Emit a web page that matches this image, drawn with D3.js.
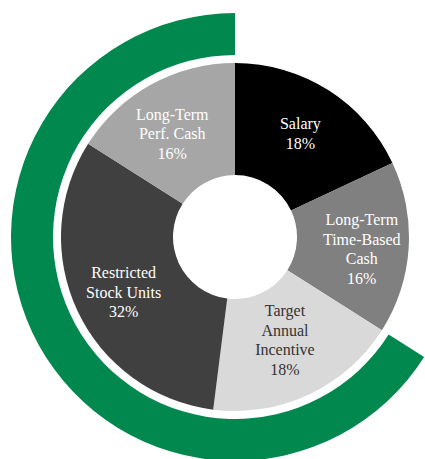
<!DOCTYPE html>
<html>
<head>
<meta charset="utf-8">
<script src="https://cdn.jsdelivr.net/npm/d3@7"></script>
<style>
  html, body { margin: 0; padding: 0; background: #fff; }
  svg { display: block; }
</style>
</head>
<body>
<div id="chart"></div>
<script>
var width = 425,
    height = 459;

// pay mix, clockwise from 12 o'clock
var categories = ["Salary", "Long-Term Time-Based Cash", "Target Annual Incentive", "Restricted Stock Units", "Long-Term Perf. Cash"];
var shares = [18, 16, 18, 32, 16];
var labelLines = [
    ["Salary", "18%"],
    ["Long-Term", "Time-Based", "Cash", "16%"],
    ["Target", "Annual", "Incentive", "18%"],
    ["Restricted", "Stock Units", "32%"],
    ["Long-Term", "Perf. Cash", "16%"]
];
var fills = ["#000000", "#808080", "#d9d9d9", "#404040", "#a6a6a6"];
var textFills = ["#ffffff", "#ffffff", "#333333", "#ffffff", "#ffffff"];

// outer ring marks the at-risk part (everything but salary and time-based cash)
var atRisk = [false, false, true, true, true];

var cx = 235, cy = 237;

var svg = d3.select("#chart").append("svg")
    .attr("width", width)
    .attr("height", height);

var g = svg.append("g")
    .attr("transform", "translate(" + cx + "," + cy + ")");

var pie = d3.pie()
    .sort(null)
    .value(function(d) { return d; });

var arcs = pie(shares);

var arc = d3.arc()
    .innerRadius(62)
    .outerRadius(174);

g.selectAll("path.slice")
    .data(arcs)
    .enter().append("path")
    .attr("class", "slice")
    .attr("d", arc)
    .attr("fill", function(d, i) { return fills[i]; });

// green ring over the at-risk slices
var riskArcs = arcs.filter(function(d, i) { return atRisk[i]; });
var ring = d3.arc()
    .innerRadius(182)
    .outerRadius(224);

g.append("path")
    .attr("d", ring({
        startAngle: d3.min(riskArcs, function(d) { return d.startAngle; }),
        endAngle: d3.max(riskArcs, function(d) { return d.endAngle; })
    }))
    .attr("fill", "#00884f");

// labels
var labelArc = d3.arc()
    .innerRadius(122)
    .outerRadius(122);

var lineH = 19.5;
// small hand nudges so labels sit where the original put them
var nudge = [[0, 0], [5, 5], [-2, -7], [-1, 4], [-4, 4]];

var labels = g.selectAll("text.label")
    .data(arcs)
    .enter().append("text")
    .attr("class", "label")
    .attr("text-anchor", "middle")
    .attr("font-family", "'Liberation Serif', 'Times New Roman', serif")
    .attr("font-size", 16)
    .attr("fill", function(d, i) { return textFills[i]; })
    .attr("transform", function(d, i) {
        var c = labelArc.centroid(d);
        return "translate(" + (c[0] + nudge[i][0]) + "," + (c[1] + nudge[i][1]) + ")";
    });

labels.each(function(d, i) {
    var lines = labelLines[i];
    var t = d3.select(this);
    lines.forEach(function(s, k) {
        t.append("tspan")
            .attr("x", 0)
            .attr("y", (k - (lines.length - 1) / 2) * lineH + 5)
            .text(s);
    });
});
</script>
</body>
</html>
